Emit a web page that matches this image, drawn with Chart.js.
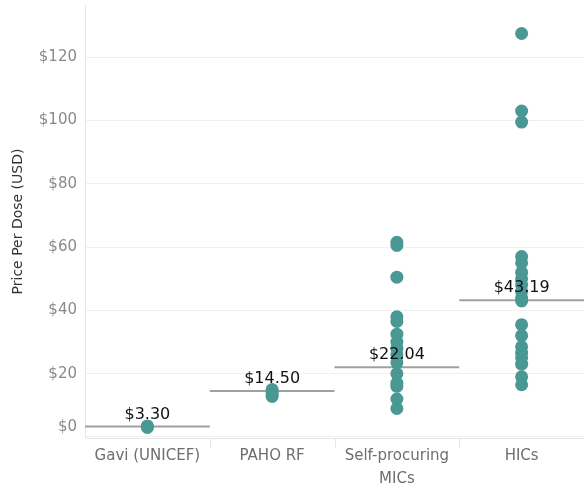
<!DOCTYPE html>
<html>
<head>
<meta charset="utf-8">
<script src="https://cdn.jsdelivr.net/npm/chart.js@4.4.1/dist/chart.umd.min.js"></script>
<style>
  body { margin: 0; background: #fff; }
  #wrap { width: 584px; height: 488px; position: relative; }
</style>
</head>
<body>
<div id="wrap"><canvas id="priceChart"></canvas></div>
<script>
// Data
const categories = ['Gavi (UNICEF)', 'PAHO RF', ['Self-procuring', 'MICs'], 'HICs'];
const gaviPrices = [3.0, 3.3, 3.5];
const pahoPrices = [12.8, 13.5, 14.3, 15.0];
const micPrices = [61.5, 60.5, 50.5, 38, 36.5, 32.5, 30, 28, 26, 23.5, 20, 17, 16, 12, 9];
const hicPrices = [127.5, 103, 99.5, 57, 55, 52, 50, 48, 46, 44, 43, 35.5, 32, 28.5, 26.5, 25, 23, 19, 16.5];
const meanPrices = [3.30, 14.50, 22.04, 43.19];
const yTicks = [0, 20, 40, 60, 80, 100, 120];

const FONT = "'DejaVu Sans', 'Open Sans', sans-serif";
const TEAL = '#499894';

// all dots, one point per price, x = middle of its column
const points = [];
[gaviPrices, pahoPrices, micPrices, hicPrices].forEach((arr, i) => {
    arr.forEach(v => points.push({ x: i + 0.5, y: v }));
});

// one short line per column for the average
const meanSets = meanPrices.map((m, i) => ({
    type: 'line',
    data: [{ x: i, y: m }, { x: i + 1, y: m }],
    borderColor: '#a0a0a0',
    borderWidth: 2,
    pointRadius: 0,
    pointHoverRadius: 0
}));

// labels on the averages, $0 label kept inside the pane, column dividers
const extras = {
    id: 'extras',
    afterDatasetsDraw(chart) {
        const ctx = chart.ctx;
        const xs = chart.scales.x, ys = chart.scales.y;
        ctx.save();
        ctx.font = '16px ' + FONT;
        ctx.fillStyle = '#111';
        ctx.textAlign = 'center';
        ctx.textBaseline = 'middle';
        meanPrices.forEach((m, i) => {
            ctx.fillText('$' + m.toFixed(2), xs.getPixelForValue(i + 0.5), ys.getPixelForValue(m) - 12);
        });
        ctx.restore();
    },
    afterDraw(chart) {
        const ctx = chart.ctx;
        const xs = chart.scales.x, ys = chart.scales.y;
        const area = chart.chartArea;
        ctx.save();
        ctx.font = '15px ' + FONT;
        ctx.fillStyle = '#8a8a8a';
        ctx.textAlign = 'right';
        ctx.textBaseline = 'middle';
        ctx.fillText('$0', area.left - 8, ys.getPixelForValue(0) - 10);
        ctx.strokeStyle = '#e6e6e6';
        ctx.lineWidth = 1;
        for (let i = 1; i < categories.length; i++) {
            const px = Math.round(xs.getPixelForValue(i)) + 0.5;
            ctx.beginPath();
            ctx.moveTo(px, area.bottom);
            ctx.lineTo(px, area.bottom + 10);
            ctx.stroke();
        }
        ctx.restore();
    }
};

const ctx = document.getElementById('priceChart').getContext('2d');
const priceChart = new Chart(ctx, {
    type: 'scatter',
    data: {
        datasets: [{
            label: 'Price',
            data: points,
            backgroundColor: TEAL,
            borderColor: TEAL,
            pointRadius: 6.5,
            pointHoverRadius: 6.5,
            borderWidth: 0
        }, ...meanSets]
    },
    options: {
        responsive: true,
        maintainAspectRatio: false,
        animation: false,
        layout: { autoPadding: false, padding: { top: 5, right: 0, left: 0, bottom: 0 } },
        plugins: {
            legend: { display: false },
            tooltip: { enabled: false }
        },
        scales: {
            x: {
                type: 'linear',
                min: 0,
                max: categories.length,
                grid: { display: false },
                border: { color: '#e6e6e6' },
                afterBuildTicks: (scale) => {
                    scale.ticks = categories.map((c, i) => ({ value: i + 0.5 }));
                },
                afterFit: (scale) => {
                    scale.height = 50;
                    scale.paddingLeft = 0;
                    scale.paddingRight = 0;
                },
                ticks: {
                    padding: -1,
                    maxRotation: 0,
                    autoSkip: false,
                    color: '#6e6e6e',
                    font: { family: FONT, size: 15, lineHeight: 1.5 },
                    callback: (v) => categories[Math.floor(v)]
                }
            },
            y: {
                min: -0.32,
                max: 136.5,
                afterBuildTicks: (scale) => {
                    scale.ticks = yTicks.map(v => ({ value: v }));
                },
                afterFit: (scale) => {
                    scale.width = 85;
                    scale.paddingTop = 0;
                    scale.paddingBottom = 0;
                },
                grid: { color: '#f0f0f0', drawTicks: false },
                border: { color: '#e6e6e6' },
                ticks: {
                    padding: 8,
                    color: '#8a8a8a',
                    font: { family: FONT, size: 15 },
                    callback: (v) => v === 0 ? '' : '$' + v
                },
                title: {
                    display: true,
                    text: 'Price Per Dose (USD)',
                    color: '#333',
                    font: { family: FONT, size: 14 },
                    padding: { top: 10, bottom: 0 }
                }
            }
        }
    },
    plugins: [extras]
});
</script>
</body>
</html>
